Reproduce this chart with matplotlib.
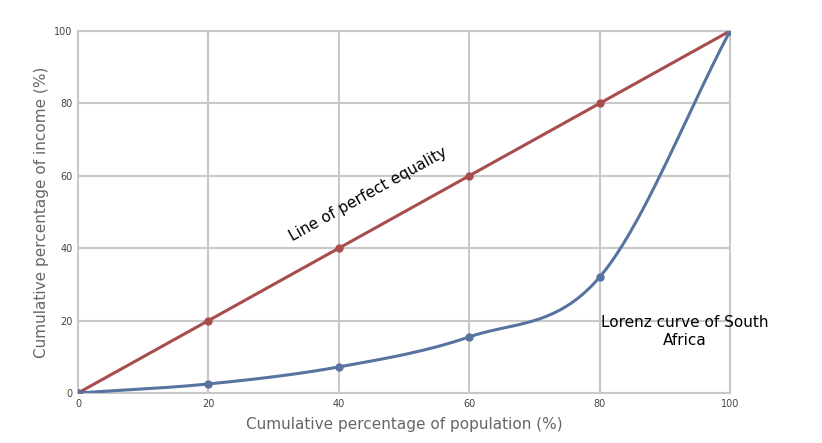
import numpy as np
import matplotlib
matplotlib.use('Agg')
import matplotlib.pyplot as plt

population = [0, 20, 40, 60, 80, 100]
equality = [0, 20, 40, 60, 80, 100]
lorenz = [0, 2.5, 7.2, 15.5, 32, 100]
ticks = [0, 20, 40, 60, 80, 100]


def catmull_rom(x, y, n=40):
    # smooth line through the points, like the curved line of the source chart
    x = np.asarray(x, float)
    y = np.asarray(y, float)
    px = np.concatenate([[2 * x[0] - x[1]], x, [2 * x[-1] - x[-2]]])
    py = np.concatenate([[2 * y[0] - y[1]], y, [2 * y[-1] - y[-2]]])
    xs, ys = [], []
    t = np.linspace(0, 1, n)
    for i in range(1, len(px) - 2):
        for p, out in ((px, xs), (py, ys)):
            p0, p1, p2, p3 = p[i - 1], p[i], p[i + 1], p[i + 2]
            out.extend(0.5 * (2 * p1 + (-p0 + p2) * t
                              + (2 * p0 - 5 * p1 + 4 * p2 - p3) * t ** 2
                              + (-p0 + 3 * p1 - 3 * p2 + p3) * t ** 3))
    return xs, ys


fig = plt.figure(figsize=(8.22, 4.43), dpi=100)
ax = fig.add_axes([78 / 822, 50 / 443, 652 / 822, 362 / 443])

red = '#a84c4c'
blue = '#5873a0'
ax.plot(population, equality, color=red, lw=2.2, marker='o', ms=5, zorder=3)
sx, sy = catmull_rom(population, lorenz)
ax.plot(sx, sy, color=blue, lw=2.2, zorder=3)
ax.plot(population, lorenz, 'o', color=blue, ms=5, zorder=4)

ax.set_xlim(0, 100)
ax.set_ylim(0, 100)
ax.set_xticks(ticks)
ax.set_yticks(ticks)
ax.grid(color='#c8c8c8', lw=1.5)
for s in ax.spines.values():
    s.set_color('#c8c8c8')
    s.set_linewidth(1.5)
ax.tick_params(length=0, labelsize=7, colors='#444444', pad=4)
ax.set_xlabel('Cumulative percentage of population (%)', fontsize=11, color='#666666', labelpad=6)
ax.set_ylabel('Cumulative percentage of income (%)', fontsize=11, color='#666666', labelpad=4)

ax.text(44.5, 55, 'Line of perfect equality', rotation=29, fontsize=11,
        ha='center', va='center', rotation_mode='anchor')
ax.text(93, 17, 'Lorenz curve of South\nAfrica', fontsize=11, ha='center', va='center',
        linespacing=1.2, clip_on=False)

fig.savefig('out.png', dpi=100)
